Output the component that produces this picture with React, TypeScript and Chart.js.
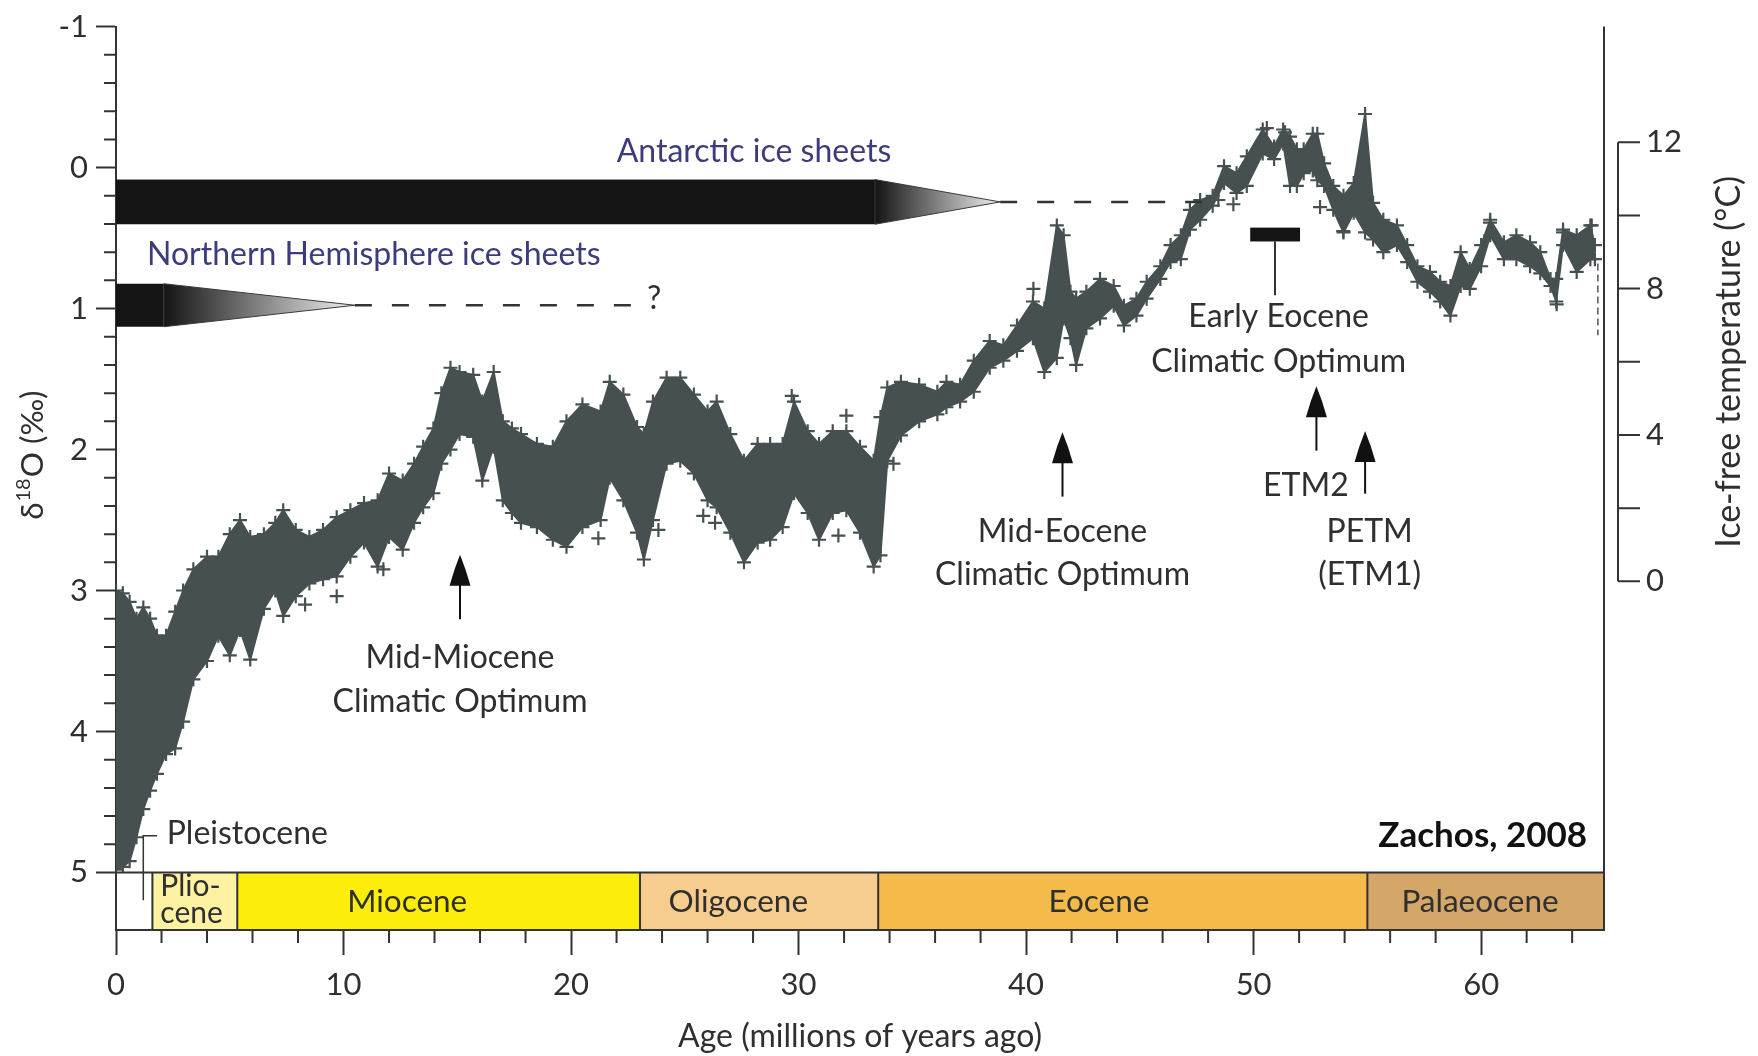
import React, { useEffect, useRef } from "react";
import { Chart, registerables } from "chart.js";

Chart.register(...registerables);

// ---------------- data ----------------
const AGES = [
  0.0, 0.3, 0.6, 0.9, 1.2, 1.5, 1.8, 2.2, 2.6, 2.95, 3.4, 4.0, 4.5, 5.0, 5.45, 5.9, 6.5, 7.0, 7.35, 7.9,
  8.5, 9.1, 9.7, 10.3, 10.9, 11.5, 12.0, 12.6, 13.1, 13.5, 13.95, 14.3, 14.7, 15.1, 15.7, 16.1, 16.6, 17.0, 17.4, 17.8,
  18.5, 19.2, 19.8, 20.5, 21.3, 21.7, 22.3, 22.9, 23.2, 23.6, 24.2, 24.8, 25.4, 26.0, 26.4, 27.0, 27.6, 28.2, 28.75, 29.3,
  29.8, 30.4, 30.9, 31.5, 32.1, 32.7, 33.3, 33.6, 33.9, 34.5, 35.3, 36.1, 36.5, 37.1, 37.7, 38.4, 39.0, 39.6, 40.3, 40.8,
  41.35, 41.65, 41.95, 42.2, 42.65, 43.25, 43.85, 44.3, 44.85, 45.3, 45.9, 46.35, 46.8, 47.2, 47.65, 48.2, 48.7, 49.25, 49.7, 50.4,
  50.9, 51.3, 51.6, 51.9, 52.2, 52.6, 52.8, 53.1, 53.5, 53.95, 54.4, 54.9, 55.25, 55.7, 56.3, 56.75, 57.2, 57.75, 58.2, 58.65,
  59.1, 59.5, 60.0, 60.4, 61.0, 61.55, 62.15, 62.6, 63.05, 63.3, 63.6, 64.2, 64.8, 65.0,
];
const D18O_UPPER = [
  3.0, 3.02, 3.08, 3.2, 3.12, 3.2, 3.32, 3.32, 3.15, 3.0, 2.85, 2.76, 2.76, 2.6, 2.5, 2.62, 2.6, 2.52, 2.43, 2.57,
  2.62, 2.57, 2.48, 2.43, 2.38, 2.36, 2.17, 2.22, 2.1, 1.98, 1.85, 1.6, 1.42, 1.45, 1.47, 1.66, 1.45, 1.8, 1.85, 1.89,
  1.96, 1.98, 1.8, 1.68, 1.73, 1.52, 1.61, 1.84, 1.89, 1.66, 1.49, 1.49, 1.61, 1.73, 1.66, 1.89, 2.08, 1.96, 1.96, 1.96,
  1.66, 1.87, 1.96, 1.87, 1.87, 1.98, 2.08, 1.77, 1.56, 1.52, 1.54, 1.59, 1.52, 1.54, 1.37, 1.23, 1.26, 1.12, 0.95, 1.0,
  0.41, 0.48, 0.88, 0.93, 0.88, 0.79, 0.84, 0.98, 0.93, 0.81, 0.7, 0.55, 0.48, 0.3, 0.23, 0.2, -0.01, 0.04, -0.08, -0.27,
  -0.15, -0.27, -0.22, -0.13, -0.13, -0.24, -0.24, -0.03, 0.13, 0.2, 0.11, -0.38, 0.25, 0.37, 0.41, 0.55, 0.7, 0.74, 0.81, 0.84,
  0.6, 0.72, 0.55, 0.37, 0.53, 0.48, 0.53, 0.6, 0.79, 0.79, 0.44, 0.48, 0.41, 0.55,
];
const D18O_LOWER = [
  4.98, 4.96, 4.92, 4.75, 4.55, 4.42, 4.3, 4.16, 4.12, 3.93, 3.63, 3.5, 3.32, 3.46, 3.28, 3.49, 3.13, 3.0, 3.18, 3.04,
  2.95, 2.92, 2.9, 2.76, 2.66, 2.83, 2.62, 2.71, 2.52, 2.41, 2.31, 2.1, 2.0, 1.89, 1.91, 2.22, 1.98, 2.36, 2.45, 2.52,
  2.55, 2.64, 2.69, 2.55, 2.5, 2.2, 2.36, 2.59, 2.78, 2.5, 2.1, 2.08, 2.17, 2.36, 2.41, 2.59, 2.8, 2.66, 2.64, 2.55,
  2.31, 2.45, 2.64, 2.45, 2.43, 2.59, 2.83, 2.75, 2.08, 1.9, 1.8, 1.75, 1.7, 1.66, 1.59, 1.42, 1.37, 1.3, 1.21, 1.45,
  1.35, 1.07, 1.21, 1.4, 1.14, 1.07, 0.98, 1.12, 1.05, 0.93, 0.79, 0.67, 0.65, 0.44, 0.37, 0.27, 0.11, 0.18, 0.13, -0.1,
  -0.06, -0.17, 0.13, 0.13, 0.04, 0.02, 0.09, 0.13, 0.3, 0.46, 0.32, 0.46, 0.51, 0.6, 0.55, 0.67, 0.81, 0.88, 0.95, 1.05,
  0.84, 0.86, 0.7, 0.48, 0.65, 0.65, 0.7, 0.75, 0.84, 0.95, 0.55, 0.74, 0.65, 0.65,
];
const OUTLIER_AGES = [8.31, 9.7, 11.75, 21.2, 23.84, 25.81, 26.33, 31.75, 29.7, 32.1, 34.17, 40.32, 50.58, 51.38, 48.45, 49.11, 52.92, 53.94, 63.6, 64.86, 60.39, 63.32];
const OUTLIER_D18O = [3.1, 3.04, 2.85, 2.63, 2.57, 2.47, 2.52, 2.61, 1.62, 1.76, 2.1, 0.86, -0.28, -0.25, 0.23, 0.26, 0.28, 0.45, 0.46, 0.41, 0.39, 0.97];

// axes
const X_TICKS = [0, 10, 20, 30, 40, 50, 60];
const Y_TICKS = [-1, 0, 1, 2, 3, 4, 5];
const TEMP_TICKS = [0, 2, 4, 6, 8, 10, 12];
const TEMP_LABELS = [0, 4, 8, 12];
const TEMP_ZERO_D18O = 2.935; // δ18O level of 0 °C
const TEMP_TWELVE_D18O = -0.18; // δ18O level of 12 °C

// epochs
const EPOCH_START = [0, 1.6, 5.33, 23.03, 33.5, 55.0];
const EPOCH_END = [1.6, 5.33, 23.03, 33.5, 55.0, 65.5];
const EPOCH_COLORS = ["#ffffff", "#fdf1a2", "#fded0a", "#f6cd8f", "#f4bb4a", "#d4a768"];
const EPOCH_LABELS = [[], ["Plio-", "cene"], ["Miocene"], ["Oligocene"], ["Eocene"], ["Palaeocene"]];
const EPOCH_LABEL_AGE = [0, 1.95, 12.8, 27.35, 43.2, 59.95];

// annotations
const ANT_BAR = { start: 0, end: 33.36, top: 0.085, bottom: 0.402, tip: 38.86, dashEnd: 48.08 };
const NH_BAR = { start: 0, end: 2.1, top: 0.824, bottom: 1.129, tip: 10.5, dashEnd: 22.7 };
const EECO_BAR = { start: 49.85, end: 52.04, top: 0.426, bottom: 0.524, stemAge: 50.94, stemEnd: 0.906 };
const ARROW_AGE = [15.12, 41.6, 52.76, 54.9];
const ARROW_TIP = [2.747, 1.877, 1.551, 1.868];
const ARROW_BASE = [3.204, 2.334, 2.008, 2.313];
const NOTE_TEXT = ["Antarctic ice sheets", "Northern Hemisphere ice sheets", "?", "Mid-Miocene", "Climatic Optimum", "Mid-Eocene", "Climatic Optimum", "Early Eocene", "Climatic Optimum", "ETM2", "PETM", "(ETM1)", "Pleistocene"];
const NOTE_AGE = [28.04, 1.36, 23.65, 15.12, 15.12, 41.6, 41.6, 51.1, 51.1, 52.3, 55.1, 55.1, 2.23];
const NOTE_D18O = [-0.11, 0.615, 0.93, 3.474, 3.79, 2.585, 2.885, 1.061, 1.375, 2.255, 2.585, 2.888, 4.726];
const NOTE_ALIGN = ["center", "left", "center", "center", "center", "center", "center", "center", "center", "center", "center", "center", "left"];
const NOTE_BLUE = [true, true, false, false, false, false, false, false, false, false, false, false, false];
const PLEIST_BRACKET = { age: 1.2, capAge: 1.8, top: 4.74, bottom: 5.197 };
const KPG_DASH = { age: 65.13, top: 0.68, bottom: 1.19 };
const CREDIT = { text: "Zachos, 2008", age: 64.66, d18o: 4.74 };

// ---------------- style ----------------
const FONT = "Lato, 'Open Sans', sans-serif";
const TEXT = "#2f2f2f";
const BLUE = "#3c3c7c";
const AXIS = "#333333";
const DOTS = "#465050";

const annotationPlugin = {
  id: "zachosAnnotations",
  afterDatasetsDraw(chart: any) {
    const { ctx, chartArea, scales } = chart;
    const xs = scales.x;
    const ys = scales.y;
    const X = (v: number) => xs.getPixelForValue(v);
    const Y = (v: number) => ys.getPixelForValue(v);
    ctx.save();

    // epoch bar
    const barTop = Y(5);
    const barBot = chartArea.bottom;
    for (let i = 0; i < EPOCH_START.length; i++) {
      const x0 = X(EPOCH_START[i]);
      const x1 = Math.min(X(EPOCH_END[i]), chartArea.right);
      ctx.fillStyle = EPOCH_COLORS[i];
      ctx.fillRect(x0, barTop, x1 - x0, barBot - barTop);
    }
    ctx.strokeStyle = AXIS;
    ctx.lineWidth = 2;
    ctx.beginPath();
    ctx.moveTo(chartArea.left, barTop);
    ctx.lineTo(chartArea.right, barTop);
    ctx.moveTo(chartArea.left, barBot);
    ctx.lineTo(chartArea.right, barBot);
    for (let i = 0; i < EPOCH_START.length; i++) {
      const xb = X(EPOCH_START[i]);
      ctx.moveTo(xb, barTop);
      ctx.lineTo(xb, barBot);
    }
    ctx.stroke();
    ctx.fillStyle = TEXT;
    ctx.textBaseline = "middle";
    for (let i = 0; i < EPOCH_LABELS.length; i++) {
      const lines = EPOCH_LABELS[i];
      if (!lines.length) continue;
      if (lines.length === 1) {
        ctx.font = `31.5px ${FONT}`;
        ctx.textAlign = "center";
        ctx.fillText(lines[0], X(EPOCH_LABEL_AGE[i]), Y(5.21));
      } else {
        ctx.textAlign = "left";
        ctx.font = `30px ${FONT}`;
        ctx.fillText(lines[0], X(EPOCH_LABEL_AGE[i]), Y(5.095));
        ctx.fillText(lines[1], X(EPOCH_LABEL_AGE[i]), Y(5.29));
      }
    }

    // ice sheet bars with tapering triangles and dashed continuation
    const drawIce = (b: any) => {
      const xa = X(b.start), xe = X(b.end), xt = X(b.tip);
      const yt = Y(b.top), yb = Y(b.bottom), ym = (yt + yb) / 2;
      ctx.fillStyle = "#141414";
      ctx.fillRect(xa, yt, xe - xa, yb - yt);
      const g = ctx.createLinearGradient(xe, 0, xt, 0);
      g.addColorStop(0, "#141414");
      g.addColorStop(1, "#f0f0f0");
      ctx.beginPath();
      ctx.moveTo(xe, yt);
      ctx.lineTo(xt, ym);
      ctx.lineTo(xe, yb);
      ctx.closePath();
      ctx.fillStyle = g;
      ctx.fill();
      ctx.strokeStyle = "#3a3a3a";
      ctx.lineWidth = 1;
      ctx.stroke();
      ctx.beginPath();
      ctx.setLineDash([17, 20]);
      ctx.lineWidth = 2.5;
      ctx.strokeStyle = AXIS;
      ctx.moveTo(xt, ym);
      ctx.lineTo(X(b.dashEnd), ym);
      ctx.stroke();
      ctx.setLineDash([]);
    };
    drawIce(ANT_BAR);
    drawIce(NH_BAR);

    // Early Eocene bar
    ctx.fillStyle = "#141414";
    ctx.fillRect(X(EECO_BAR.start), Y(EECO_BAR.top), X(EECO_BAR.end) - X(EECO_BAR.start), Y(EECO_BAR.bottom) - Y(EECO_BAR.top));
    ctx.strokeStyle = AXIS;
    ctx.lineWidth = 2;
    ctx.beginPath();
    ctx.moveTo(X(EECO_BAR.stemAge), Y(EECO_BAR.bottom));
    ctx.lineTo(X(EECO_BAR.stemAge), Y(EECO_BAR.stemEnd));
    ctx.stroke();

    // arrows
    for (let i = 0; i < ARROW_AGE.length; i++) {
      const ax = X(ARROW_AGE[i]);
      const tip = Y(ARROW_TIP[i]);
      const base = Y(ARROW_BASE[i]);
      const headLen = 31;
      const half = 10.5;
      ctx.strokeStyle = "#111";
      ctx.lineWidth = 2;
      ctx.beginPath();
      ctx.moveTo(ax, tip + headLen - 2);
      ctx.lineTo(ax, base);
      ctx.stroke();
      ctx.fillStyle = "#111";
      ctx.beginPath();
      ctx.moveTo(ax, tip);
      ctx.quadraticCurveTo(ax + half * 0.55, tip + headLen * 0.45, ax + half, tip + headLen);
      ctx.lineTo(ax - half, tip + headLen);
      ctx.quadraticCurveTo(ax - half * 0.55, tip + headLen * 0.45, ax, tip);
      ctx.closePath();
      ctx.fill();
    }

    // Pleistocene bracket
    ctx.strokeStyle = AXIS;
    ctx.lineWidth = 1.5;
    ctx.beginPath();
    ctx.moveTo(X(PLEIST_BRACKET.capAge), Y(PLEIST_BRACKET.top));
    ctx.lineTo(X(PLEIST_BRACKET.age), Y(PLEIST_BRACKET.top));
    ctx.lineTo(X(PLEIST_BRACKET.age), Y(PLEIST_BRACKET.bottom));
    ctx.stroke();

    // K/Pg dashed mark
    ctx.strokeStyle = "#555";
    ctx.lineWidth = 1.5;
    ctx.setLineDash([7, 4]);
    ctx.beginPath();
    ctx.moveTo(X(KPG_DASH.age), Y(KPG_DASH.top));
    ctx.lineTo(X(KPG_DASH.age), Y(KPG_DASH.bottom));
    ctx.stroke();
    ctx.setLineDash([]);

    // texts
    ctx.font = `32px ${FONT}`;
    ctx.textBaseline = "middle";
    for (let i = 0; i < NOTE_TEXT.length; i++) {
      ctx.fillStyle = NOTE_BLUE[i] ? BLUE : TEXT;
      ctx.textAlign = NOTE_ALIGN[i] as CanvasTextAlign;
      ctx.fillText(NOTE_TEXT[i], X(NOTE_AGE[i]), Y(NOTE_D18O[i]));
    }
    ctx.font = `bold 35px ${FONT}`;
    ctx.fillStyle = "#111";
    ctx.textAlign = "right";
    ctx.fillText(CREDIT.text, X(CREDIT.age), Y(CREDIT.d18o));

    // right frame line
    ctx.strokeStyle = AXIS;
    ctx.lineWidth = 2;
    ctx.beginPath();
    ctx.moveTo(chartArea.right, chartArea.top);
    ctx.lineTo(chartArea.right, chartArea.bottom);
    ctx.stroke();

    ctx.restore();
  },
  afterDraw(chart: any) {
    const { ctx, chartArea, scales } = chart;
    const xs = scales.x, ys = scales.y, ts = scales.yT;
    ctx.save();
    ctx.strokeStyle = AXIS;
    ctx.lineWidth = 2;
    // minor ticks on δ18O axis
    ctx.beginPath();
    for (let k = -5; k <= 25; k++) {
      if (k % 5 === 0) continue;
      const yy = ys.getPixelForValue(k / 5);
      ctx.moveTo(chartArea.left - 12, yy);
      ctx.lineTo(chartArea.left, yy);
    }
    // minor ticks on age axis
    for (let a = 2; a <= 64; a += 2) {
      if (a % 10 === 0) continue;
      const xx = xs.getPixelForValue(a);
      ctx.moveTo(xx, chartArea.bottom);
      ctx.lineTo(xx, chartArea.bottom + 13);
    }
    ctx.stroke();

    // temperature axis
    const axX = chartArea.right + 14;
    ctx.beginPath();
    ctx.moveTo(axX, ts.getPixelForValue(TEMP_TICKS[0]));
    ctx.lineTo(axX, ts.getPixelForValue(TEMP_TICKS[TEMP_TICKS.length - 1]));
    for (const t of TEMP_TICKS) {
      const yy = ts.getPixelForValue(t);
      ctx.moveTo(axX, yy);
      ctx.lineTo(axX + 22, yy);
    }
    ctx.stroke();
    ctx.fillStyle = TEXT;
    ctx.font = `31px ${FONT}`;
    ctx.textAlign = "left";
    ctx.textBaseline = "middle";
    for (const t of TEMP_LABELS) {
      ctx.fillText(String(t), axX + 28, ts.getPixelForValue(t));
    }
    ctx.save();
    const midT = (ts.getPixelForValue(TEMP_TICKS[0]) + ts.getPixelForValue(TEMP_TICKS[TEMP_TICKS.length - 1])) / 2;
    ctx.translate(axX + 111, midT);
    ctx.rotate(-Math.PI / 2);
    ctx.textAlign = "center";
    ctx.font = `34px ${FONT}`;
    ctx.fillText("Ice-free temperature (°C)", 0, 0);
    ctx.restore();

    // δ18O title with superscript
    ctx.save();
    ctx.translate(33, ys.getPixelForValue(2.04));
    ctx.rotate(-Math.PI / 2);
    ctx.textAlign = "left";
    ctx.textBaseline = "middle";
    const big = `31.5px ${FONT}`, small = `20px ${FONT}`;
    ctx.font = big;
    const w1 = ctx.measureText("δ").width;
    const w3 = ctx.measureText("O (‰)").width;
    ctx.font = small;
    const w2 = ctx.measureText("18").width;
    let px = -(w1 + w2 + w3 + 2) / 2;
    ctx.font = big;
    ctx.fillText("δ", px, 0);
    px += w1 + 1;
    ctx.font = small;
    ctx.fillText("18", px, -9);
    px += w2 + 1;
    ctx.font = big;
    ctx.fillText("O (‰)", px, 0);
    ctx.restore();

    ctx.restore();
  },
};

export default function App() {
  const ref = useRef<HTMLCanvasElement | null>(null);
  useEffect(() => {
    const canvas = ref.current;
    if (!canvas) return;
    const slope = (TEMP_TICKS[TEMP_TICKS.length - 1] - TEMP_TICKS[0]) / (TEMP_ZERO_D18O - TEMP_TWELVE_D18O);
    const Y_MIN = -1;
    const Y_MAX = 5.408;
    const tempAt = (d: number) => slope * (TEMP_ZERO_D18O - d);

    const upper = AGES.map((a, i) => ({ x: a, y: D18O_UPPER[i] }));
    const lower = AGES.map((a, i) => ({ x: a, y: D18O_LOWER[i] }));
    const outliers = OUTLIER_AGES.map((a, i) => ({ x: a, y: OUTLIER_D18O[i] }));
    const pointCommon = {
      pointStyle: "cross",
      pointRadius: 7,
      pointBorderWidth: 2.2,
      pointBorderColor: DOTS,
      pointBackgroundColor: DOTS,
      pointHoverRadius: 7,
    };

    const chart = new Chart(canvas, {
      type: "scatter",
      data: {
        datasets: [
          { data: upper, showLine: true, borderColor: DOTS, borderWidth: 2, backgroundColor: DOTS, fill: "+1", tension: 0, ...pointCommon } as any,
          { data: lower, showLine: true, borderColor: DOTS, borderWidth: 2, backgroundColor: DOTS, fill: false, tension: 0, ...pointCommon } as any,
          { data: outliers, showLine: false, ...pointCommon } as any,
        ],
      },
      options: {
        responsive: false,
        animation: false,
        events: [],
        layout: { padding: { left: 0, right: 154, top: 19, bottom: 0 } },
        plugins: { legend: { display: false }, tooltip: { enabled: false } },
        scales: {
          x: {
            type: "linear",
            min: 0,
            max: 65.4,
            afterBuildTicks: (s: any) => {
              s.ticks = X_TICKS.map((v) => ({ value: v }));
            },
            afterFit: (s: any) => {
              s.height = 126;
            },
            grid: { drawOnChartArea: false, drawTicks: true, tickLength: 25, tickWidth: 2, tickColor: AXIS },
            border: { display: true, color: AXIS, width: 2 },
            ticks: { padding: 11, color: TEXT, font: { family: FONT, size: 31 }, maxRotation: 0, autoSkip: false, callback: (v: any) => String(v) },
            title: { display: true, text: "Age (millions of years ago)", color: TEXT, font: { family: FONT, size: 32 }, padding: { top: 0, bottom: 0 } },
          },
          y: {
            type: "linear",
            reverse: true,
            min: Y_MIN,
            max: Y_MAX,
            afterBuildTicks: (s: any) => {
              s.ticks = Y_TICKS.map((v) => ({ value: v }));
            },
            afterFit: (s: any) => {
              s.width = 116;
            },
            grid: { drawOnChartArea: false, drawTicks: true, tickLength: 20, tickWidth: 2, tickColor: AXIS },
            border: { display: true, color: AXIS, width: 2 },
            ticks: { padding: 8, color: TEXT, font: { family: FONT, size: 31 }, autoSkip: false, callback: (v: any) => String(v) },
          },
          yT: {
            type: "linear",
            display: false,
            min: tempAt(Y_MAX),
            max: tempAt(Y_MIN),
          },
        },
      } as any,
      plugins: [annotationPlugin],
    });
    return () => chart.destroy();
  }, []);

  return (
    <div style={{ position: "absolute", left: 0, top: 0, width: 1758, height: 1056, background: "#ffffff" }}>
      <canvas ref={ref} width={1758} height={1056} style={{ display: "block" }} />
    </div>
  );
}
